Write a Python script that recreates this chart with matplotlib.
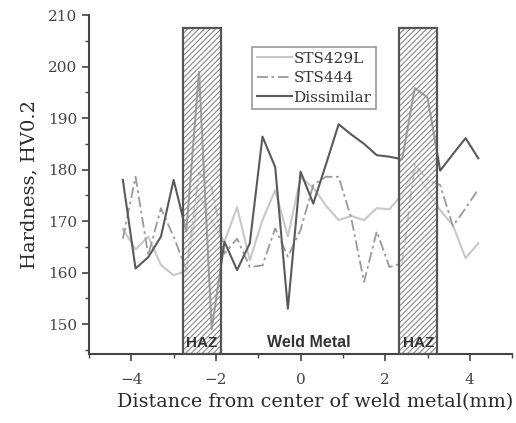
import matplotlib
matplotlib.use("Agg")
import matplotlib.pyplot as plt
from matplotlib.patches import Rectangle
from matplotlib.ticker import MultipleLocator

# distance from weld centre (mm)
distance = [-4.2, -3.9, -3.6, -3.3, -3.0, -2.7, -2.4, -2.1, -1.8, -1.5,
            -1.2, -0.9, -0.6, -0.3, 0.0, 0.3, 0.6, 0.9, 1.2, 1.5,
            1.8, 2.1, 2.4, 2.7, 3.0, 3.3, 3.6, 3.9, 4.2]

sts429l = [168.5, 164.5, 167.0, 161.5, 159.5, 160.3, 175.0, 170.0, 166.0, 172.7,
           162.4, 170.2, 176.0, 167.0, 178.5, 176.5, 173.0, 170.2, 171.0, 170.2,
           172.5, 172.3, 175.2, 180.0, 176.0, 172.1, 169.2, 162.8, 165.7]

sts444 = [166.6, 178.6, 163.4, 172.5, 167.0, 160.5, 179.5, 176.5, 163.7, 166.6,
          161.1, 161.4, 168.6, 163.1, 168.3, 177.0, 178.6, 178.6, 170.5, 158.2,
          168.0, 161.1, 161.8, 181.0, 178.0, 177.0, 169.0, 172.5, 176.2]

dissimilar = [178.0, 160.8, 163.0, 167.0, 178.0, 168.0, 199.0, 149.0, 166.0, 160.5,
              165.7, 186.4, 180.5, 153.0, 179.6, 173.4, 181.0, 188.8, 186.8, 185.0,
              182.8, 182.5, 182.0, 195.8, 194.0, 179.8, 183.0, 186.1, 182.2]

# heat affected zones (x0, x1) and their top
haz_zones = [(-2.79, -1.88), (2.33, 3.23)]
haz_top = 207.5

plt.rcParams["font.family"] = "DejaVu Serif"
plt.rcParams["hatch.linewidth"] = 0.8

fig = plt.figure(figsize=(5.16, 4.23), dpi=100)
ax = fig.add_axes([0.1725, 0.163, 0.82, 0.8015])

ax.plot(distance, sts429l, color="#c8c8c8", lw=1.5, label="STS429L", zorder=2)
ax.plot(distance, sts444, color="#9a9a9a", lw=1.3, ls=(0, (6, 2, 1.5, 2)),
        label="STS444", zorder=2)
ax.plot(distance, dissimilar, color="#5a5a5a", lw=1.5, label="Dissimilar", zorder=2)

ymin = 144.2
for x0, x1 in haz_zones:
    ax.add_patch(Rectangle((x0, ymin), x1 - x0, haz_top - ymin,
                           facecolor=(1, 1, 1, 0.45), edgecolor="#8a8a8a",
                           hatch="//////", lw=0, zorder=3))
    ax.add_patch(Rectangle((x0, ymin), x1 - x0, haz_top - ymin,
                           facecolor="none", edgecolor="#555555", lw=1.6, zorder=4))
    ax.text((x0 + x1) / 2, 146.4, "HAZ", ha="center", va="center",
            family="Liberation Sans", fontsize=11, color="#333333",
            fontweight="bold", zorder=5)

ax.text(0.2, 146.4, "Weld Metal", ha="center", va="center",
        family="Liberation Sans", fontsize=11.5, color="#333333", fontweight="bold")

ax.set_xlim(-5, 5)
ax.set_ylim(ymin, 210)
ax.xaxis.set_major_locator(MultipleLocator(2))
ax.xaxis.set_minor_locator(MultipleLocator(1))
ax.yaxis.set_major_locator(MultipleLocator(10))
ax.yaxis.set_minor_locator(MultipleLocator(5))

for side in ("top", "right"):
    ax.spines[side].set_visible(False)
for side in ("left", "bottom"):
    ax.spines[side].set_color("#444444")
    ax.spines[side].set_linewidth(1.5)

ax.tick_params(which="major", direction="out", length=5, width=1.2,
               colors="#444444", labelsize=11, labelcolor="#444444")
ax.tick_params(axis="x", which="major", pad=9)
ax.tick_params(which="minor", direction="out", length=3, width=1.0, colors="#444444")

ax.set_xlabel("Distance from center of weld metal(mm)", fontsize=13.8, color="#2a2a2a",
              labelpad=4)
ax.xaxis.set_label_coords(0.535, -0.115)
ax.set_ylabel("Hardness, HV0.2", fontsize=14, color="#2a2a2a", labelpad=7)

leg = ax.legend(loc="upper left", bbox_to_anchor=(0.386, 0.905), fontsize=11,
                handlelength=2.3, handletextpad=0.1, borderpad=0.3,
                labelspacing=0.35, fancybox=False, framealpha=1, borderaxespad=0)
leg.get_frame().set_edgecolor("#999999")
leg.get_frame().set_linewidth(1.2)
for txt in leg.get_texts():
    txt.set_color("#333333")

fig.savefig("out.png", dpi=100)
